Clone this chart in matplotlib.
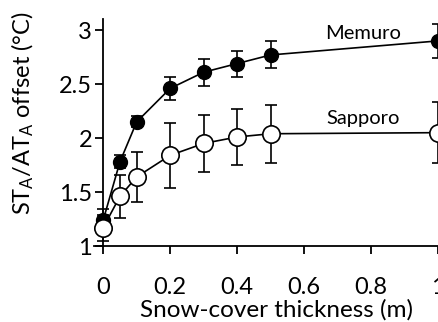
from matplotlib import pyplot as plt

plt.rcParams['font.family'] = ['Lato', 'DejaVu Sans']
plt.rcParams['mathtext.fontset'] = 'custom'
plt.rcParams['mathtext.rm'] = 'Lato'
plt.rcParams['mathtext.it'] = 'Lato'

thickness = [0, 0.05, 0.1, 0.2, 0.3, 0.4, 0.5, 1.0]
memuro = [1.24, 1.78, 2.15, 2.46, 2.61, 2.69, 2.77, 2.90]
memuro_err = [0.10, 0.06, 0.05, 0.11, 0.125, 0.12, 0.125, 0.155]
sapporo = [1.17, 1.46, 1.64, 1.84, 1.95, 2.01, 2.04, 2.05]
sapporo_err = [0.12, 0.20, 0.23, 0.30, 0.26, 0.26, 0.27, 0.28]

x_ticks = [0, 0.2, 0.4, 0.6, 0.8, 1]
x_ticklabels = ["0", "0.2", "0.4", "0.6", "0.8", "1"]
y_ticks = [1, 1.5, 2, 2.5, 3]
y_ticklabels = ["1", "1.5", "2", "2.5", "3"]


def main() -> None:
    fig = plt.figure(figsize=(4.38, 3.22), dpi=100)
    ax = fig.add_axes([0.215, 0.236, 0.785, 0.704])

    ax.errorbar(thickness, memuro, yerr=memuro_err, color="black", lw=1.2,
                marker="o", ms=10, mfc="black", mec="black",
                capsize=4.5, elinewidth=1.2, capthick=1.2, zorder=3)
    ax.errorbar(thickness, sapporo, yerr=sapporo_err, color="black", lw=1.2,
                marker="o", ms=12.5, mfc="white", mec="black", mew=1.2,
                capsize=4.5, elinewidth=1.2, capthick=1.2, zorder=4)

    ax.text(0.776, 2.92, "Memuro", fontsize=14.5, ha="center", va="baseline")
    ax.text(0.776, 2.13, "Sapporo", fontsize=14.5, ha="center", va="baseline")

    ax.set_xlim(-0.027, 1.0)
    ax.set_ylim(1, 3.1)
    ax.spines["left"].set_position(("data", 0))
    ax.spines["left"].set_bounds(1, 3.1)
    ax.spines["top"].set_visible(False)
    ax.spines["right"].set_visible(False)
    for s in ("left", "bottom"):
        ax.spines[s].set_linewidth(1.3)

    ax.set_xticks(x_ticks)
    ax.set_xticklabels(x_ticklabels)
    ax.set_yticks(y_ticks)
    ax.set_yticklabels(y_ticklabels)
    ax.tick_params(axis="both", labelsize=17, width=1.3, length=6)
    ax.tick_params(axis="x", pad=16)
    ax.tick_params(axis="y", pad=2)

    ax.set_xlabel("Snow-cover thickness (m)", fontsize=17.5)
    ax.xaxis.set_label_coords(0.53, -0.232)
    ax.set_ylabel("ST$_\\mathregular{A}$/AT$_\\mathregular{A}$ offset (°C)", fontsize=17)
    ax.yaxis.set_label_coords(-0.17, 0.587)

    fig.savefig("out.png", dpi=100)


if __name__ == "__main__":
    main()
